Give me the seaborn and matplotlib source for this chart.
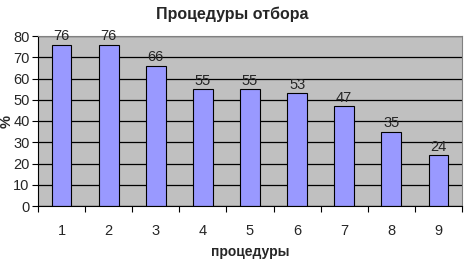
import matplotlib
matplotlib.use("Agg")
import matplotlib.pyplot as plt
import seaborn as sns
import pandas as pd
from matplotlib.ticker import FixedLocator, NullFormatter

categories = ["1", "2", "3", "4", "5", "6", "7", "8", "9"]
values = [76, 76, 66, 55, 55, 53, 47, 35, 24]
title = "Процедуры отбора"
xlabel = "процедуры"
ylabel = "%"

sns.set_style("white")
plt.rcParams['font.family'] = ['Liberation Sans', 'DejaVu Sans']

df = pd.DataFrame({"cat": categories, "val": values})

fig = plt.figure(figsize=(4.74, 2.64), dpi=100)
ax = fig.add_axes([38/474, 1-206/264, 424/474, 170/264])
ax.set_facecolor("#C0C0C0")
sns.barplot(data=df, x="cat", y="val", ax=ax, color="#9999FF",
            edgecolor="black", linewidth=0.8, width=0.42, saturation=1)
ax.set_xlim(-0.5, 8.5)
ax.set_ylim(0, 80)
ax.set_yticks(range(0, 81, 10))
ax.yaxis.grid(True, color="black", linewidth=0.9)
ax.set_axisbelow(True)
for s in ["top", "right"]:
    ax.spines[s].set_color("#808080")
    ax.spines[s].set_linewidth(0.8)
for s in ["left", "bottom"]:
    ax.spines[s].set_color("black")
    ax.spines[s].set_linewidth(0.8)
ax.tick_params(axis="y", length=4, width=0.8, color="black", labelsize=10.5, pad=2, left=True)
ax.tick_params(axis="x", which="major", length=0, labelsize=10.5, pad=13)
ax.xaxis.set_minor_locator(FixedLocator([i + 0.5 for i in range(-1, 9)]))
ax.xaxis.set_minor_formatter(NullFormatter())
ax.tick_params(axis="x", which="minor", length=4, width=0.8, color="black", bottom=True)
for c in ax.containers:
    ax.bar_label(c, labels=[str(v) for v in values], padding=1, fontsize=10.5)
ax.set_xlabel(xlabel, fontsize=10, fontweight="bold", labelpad=5)
ax.set_ylabel(ylabel, fontsize=10.5, fontweight="bold", labelpad=0)
fig.text(232/474, 1-14/264, title, ha="center", va="center", fontsize=11.5, fontweight="bold")
fig.savefig("out.png", dpi=100)
